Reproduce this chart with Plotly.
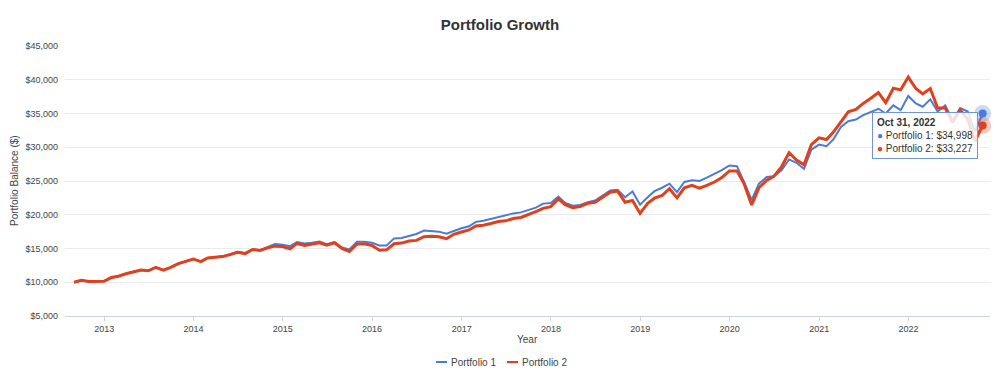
import calendar
import plotly.graph_objects as go

# ---- data (month-end balances, Aug 2012 .. Oct 2022) ----
start_year, start_month = 2012, 8
n_months = 123

portfolio_1 = [
    10000, 10300, 10100, 10100, 10150,
    10700, 10900, 11250, 11550, 11800, 11700, 12200, 11800, 12200, 12750, 13100, 13450,
    13050, 13600, 13700, 13850, 14150, 14500, 14300, 14900, 14750, 15250, 15650, 15550,
    15350, 15950, 15750, 15850, 16050, 15650, 15950, 15150, 14850, 16000, 16000, 15850,
    15450, 15450, 16500, 16550, 16850, 17150, 17650, 17550, 17500, 17200, 17600, 18000,
    18300, 18950, 19100, 19350, 19700, 19850, 20200, 20350, 20650, 21050, 21650, 21750,
    22700, 21750, 21350, 21450, 21850, 22100, 22850, 23600, 23700, 22600, 23450, 21500,
    22600, 23500, 24000, 24600, 23350, 24850, 25100, 25000, 25500, 26000, 26600, 27300,
    27200, 24850, 22200, 24600, 25600, 25700, 26600, 28200, 27700, 26800, 29650, 30400,
    30150, 31150, 33000, 33850, 34100, 34750, 35250, 35700, 35000, 36200, 35500, 37600,
    36500, 36000, 37100, 35300, 36200, 34000, 35800, 35300, 32300, 34998,
]

portfolio_2 = [
    10000, 10300, 10100, 10100, 10150,
    10700, 10900, 11250, 11550, 11800, 11700, 12200, 11800, 12200, 12750, 13100, 13450,
    13050, 13600, 13700, 13800, 14100, 14450, 14250, 14850, 14700, 15100, 15350, 15300,
    14950, 15750, 15450, 15600, 15850, 15500, 15850, 15000, 14550, 15650, 15700, 15450,
    14750, 14800, 15700, 15800, 16100, 16200, 16750, 16800, 16750, 16450, 17100, 17450,
    17750, 18350, 18450, 18700, 19000, 19100, 19450, 19600, 20000, 20450, 20950, 21200,
    22350, 21500, 21050, 21200, 21700, 21850, 22600, 23350, 23500, 21850, 22100, 20200,
    21700, 22450, 22850, 23850, 22500, 24000, 24350, 23950, 24350, 24850, 25500, 26500,
    26500, 24600, 21450, 24000, 25100, 25700, 27100, 29200, 28100, 27400, 30400, 31400,
    31150, 32250, 33750, 35250, 35600, 36500, 37250, 38100, 36600, 38750, 38500, 40400,
    38700, 37900, 38700, 35800, 35800, 33700, 35500, 34200, 30900, 33227,
]

series_names = ["Portfolio 1", "Portfolio 2"]
tick_years = [2013, 2014, 2015, 2016, 2017, 2018, 2019, 2020, 2021, 2022]
y_ticks = [5000, 10000, 15000, 20000, 25000, 30000, 35000, 40000, 45000]

# month-end dates
dates = []
y, m = start_year, start_month
for _ in range(n_months):
    d = calendar.monthrange(y, m)[1]
    dates.append(f"{y:04d}-{m:02d}-{d:02d}")
    m += 1
    if m > 12:
        m = 1
        y += 1

BLUE = "#4a7bdc"
RED = "#e0401c"
FONT = "Liberation Sans, Arial, sans-serif"

W, H = 1000, 380
ML, MR, MT, MB = 65, 10, 46, 64
PW, PH = W - ML - MR, H - MT - MB

def px(xp):  # pixel x -> paper
    return (xp - ML) / PW

def py(yp):  # pixel y -> paper
    return (H - MB - yp) / PH

fig = go.Figure()
fig.add_trace(go.Scatter(x=dates, y=portfolio_1, mode="lines", name=series_names[0],
                         line=dict(color=BLUE, width=2), showlegend=False))
fig.add_trace(go.Scatter(x=dates, y=portfolio_2, mode="lines", name=series_names[1],
                         line=dict(color=RED, width=3), showlegend=False))

# highlighted last points (hover state)
for vals, col in ((portfolio_1, BLUE), (portfolio_2, RED)):
    fig.add_trace(go.Scatter(x=[dates[-1]], y=[vals[-1]], mode="markers", showlegend=False,
                             cliponaxis=False,
                             marker=dict(size=17, color=col, opacity=0.28), hoverinfo="skip"))
    fig.add_trace(go.Scatter(x=[dates[-1]], y=[vals[-1]], mode="markers", showlegend=False,
                             cliponaxis=False,
                             marker=dict(size=8, color=col), hoverinfo="skip"))

def money(v):
    return "$" + format(int(round(v)), ",")

tip = (f"<b>Oct 31, 2022</b><br>"
       f"<span style='color:{BLUE}'>●</span> {series_names[0]}: {money(portfolio_1[-1])}<br>"
       f"<span style='color:{RED}'>●</span> {series_names[1]}: {money(portfolio_2[-1])}")

# custom legend (short line swatches)
legend_y = py(362)
shapes = [
    dict(type="line", xref="paper", yref="paper", x0=px(436), x1=px(447),
         y0=legend_y, y1=legend_y, line=dict(color=BLUE, width=2)),
    dict(type="line", xref="paper", yref="paper", x0=px(507), x1=px(518),
         y0=legend_y, y1=legend_y, line=dict(color=RED, width=2)),
]

fig.update_layout(
    width=W, height=H,
    margin=dict(l=ML, r=MR, t=MT, b=MB),
    paper_bgcolor="white", plot_bgcolor="white",
    font=dict(family=FONT, size=9, color="#444"),
    title=dict(text="<b>Portfolio Growth</b>", x=0.5, xanchor="center", y=1 - 25 / H,
               yanchor="middle", font=dict(family=FONT, size=15, color="#333")),
    showlegend=False,
    xaxis=dict(type="date", range=["2012-07-25", "2022-11-30"],
               tickvals=[f"{yy}-01-01" for yy in tick_years],
               ticktext=[str(yy) for yy in tick_years],
               showgrid=False, showline=True, linecolor="#ccd3e0", linewidth=1,
               ticks="outside", ticklen=4, tickcolor="#ccd3e0",
               tickfont=dict(size=9, color="#444"), zeroline=False, automargin=False),
    yaxis=dict(range=[5000, 45000], tickvals=y_ticks,
               ticktext=[money(v) for v in y_ticks],
               showgrid=True, gridcolor="#ebebeb", gridwidth=1, zeroline=False,
               tickfont=dict(size=9, color="#444"), ticklabelstandoff=6, automargin=False),
    shapes=shapes,
    annotations=[
        dict(text="Portfolio Balance ($)", xref="paper", yref="paper", x=px(14), y=0.5,
             textangle=-90, showarrow=False, xanchor="center", yanchor="middle",
             font=dict(size=10, color="#444")),
        dict(text="Year", xref="paper", yref="paper", x=0.5, y=py(339),
             showarrow=False, xanchor="center", yanchor="middle",
             font=dict(size=10, color="#444")),
        dict(text=series_names[0], xref="paper", yref="paper", x=px(449), y=legend_y,
             showarrow=False, xanchor="left", yanchor="middle",
             font=dict(size=10, color="#444")),
        dict(text=series_names[1], xref="paper", yref="paper", x=px(520), y=legend_y,
             showarrow=False, xanchor="left", yanchor="middle",
             font=dict(size=10, color="#444")),
        dict(text=tip, xref="paper", yref="paper", x=px(872), y=py(112),
             xanchor="left", yanchor="top", align="left", showarrow=False,
             bgcolor="rgba(255,255,255,0.82)", bordercolor="#6f95d8", borderwidth=1,
             borderpad=4, font=dict(size=10, color="#333")),
    ],
)

fig.write_html("out.html", config={"displayModeBar": False},
               post_script="document.body.style.margin='0';")
